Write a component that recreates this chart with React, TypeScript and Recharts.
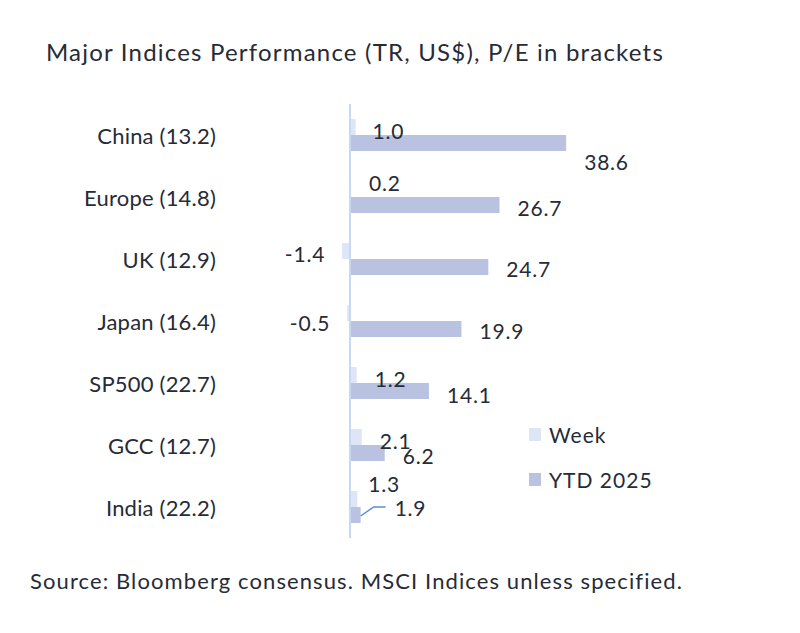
import React from "react";
import { BarChart, Bar, XAxis, YAxis, ReferenceLine, LabelList, Legend } from "recharts";

const indices = ["China (13.2)", "Europe (14.8)", "UK (12.9)", "Japan (16.4)", "SP500 (22.7)", "GCC (12.7)", "India (22.2)"];
const weekReturns = [1.0, 0.2, -1.4, -0.5, 1.2, 2.1, 1.3];
const ytdReturns = [38.6, 26.7, 24.7, 19.9, 14.1, 6.2, 1.9];

const data = indices.map((name, i) => ({ name, week: weekReturns[i], ytd: ytdReturns[i] }));

// label nudges, in px, so the labels sit where the source put them
const weekLabelDx = [17, 18, 17, 17, 18, 18, 11];
const weekLabelDy = [3, -7, 2, 9, 3, 3, -16];
const ytdLabelDx = [18, 18, 18, 18, 18, 18, 34];
const ytdLabelDy = [18, 2, 1, 1, 3, 2, -8];
const ytdLeader = [false, false, false, false, false, false, true];

const FONT = "Lato, 'Noto Sans', sans-serif";
const TEXT = "#262b36";
const WEEK_COLOR = "#dde5f7";
const YTD_COLOR = "#b9c3e1";

const makeLabel = (dxs: number[], dys: number[], leader?: boolean[]) => (props: any) => {
  const { x, y, width, height, value, index } = props;
  const neg = value < 0;
  const end = neg ? Math.min(x, x + width) : Math.max(x, x + width);
  const cy = y + height / 2;
  const tx = neg ? end - dxs[index] : end + dxs[index];
  const ty = cy + dys[index];
  return (
    <g>
      {leader && leader[index] && (
        <polyline
          points={`${end},${cy + 1} ${end + 13},${ty} ${end + 25},${ty}`}
          fill="none"
          stroke="#5b8ed6"
          strokeWidth={1.5}
        />
      )}
      <text
        x={tx}
        y={ty}
        textAnchor={neg ? "end" : "start"}
        dominantBaseline="central"
        fontSize={21}
        letterSpacing={0.8}
        fontFamily={FONT}
        fill={TEXT}
      >
        {Number(value).toFixed(1)}
      </text>
    </g>
  );
};

const CategoryTick = (props: any) => {
  const { x, y, payload } = props;
  return (
    <text
      x={x}
      y={y}
      textAnchor="end"
      dominantBaseline="central"
      fontSize={22}
      letterSpacing={0.2}
      fontFamily={FONT}
      fill={TEXT}
    >
      {payload.value}
    </text>
  );
};

const renderLegend = (props: any) => {
  const { payload } = props;
  return (
    <div style={{ fontFamily: FONT, fontSize: 21, letterSpacing: 1, color: TEXT }}>
      {payload.map((entry: any) => (
        <div key={entry.value} style={{ display: "flex", alignItems: "center", height: 45 }}>
          <span style={{ display: "inline-block", width: 12, height: 13, background: entry.color, marginRight: 8 }} />
          <span>{entry.value}</span>
        </div>
      ))}
    </div>
  );
};

export default function App() {
  return (
    <div style={{ position: "absolute", left: 0, top: 0, width: 800, height: 633, background: "#fff" }}>
      <div
        style={{
          position: "absolute",
          left: 46,
          top: 38,
          fontFamily: FONT,
          fontSize: 24,
          letterSpacing: 1.2,
          color: TEXT,
          whiteSpace: "nowrap",
          lineHeight: "28px",
        }}
      >
        Major Indices Performance (TR, US$), P/E in brackets
      </div>
      <BarChart
        width={800}
        height={633}
        data={data}
        layout="vertical"
        margin={{ top: 104, right: 226, bottom: 95, left: 18 }}
        barGap={0}
        barSize={16}
      >
        <XAxis type="number" domain={[-20, 40]} hide />
        <YAxis
          type="category"
          dataKey="name"
          width={220}
          axisLine={false}
          tickLine={false}
          tickMargin={16}
          tick={<CategoryTick />}
          interval={0}
        />
        <Legend
          layout="vertical"
          align="center"
          verticalAlign="middle"
          wrapperStyle={{ left: 529, top: 412, width: 200 }}
          content={renderLegend}
        />
        <Bar dataKey="week" name="Week" fill={WEEK_COLOR} isAnimationActive={false}>
          <LabelList dataKey="week" content={makeLabel(weekLabelDx, weekLabelDy)} />
        </Bar>
        <Bar dataKey="ytd" name="YTD 2025" fill={YTD_COLOR} isAnimationActive={false}>
          <LabelList dataKey="ytd" content={makeLabel(ytdLabelDx, ytdLabelDy, ytdLeader)} />
        </Bar>
        <ReferenceLine x={0} stroke="#c9d7f0" strokeWidth={2} />
      </BarChart>
      <div
        style={{
          position: "absolute",
          left: 30,
          top: 567,
          fontFamily: FONT,
          fontSize: 22,
          letterSpacing: 1.1,
          color: TEXT,
          whiteSpace: "nowrap",
          lineHeight: "28px",
        }}
      >
        Source: Bloomberg consensus. MSCI Indices unless specified.
      </div>
    </div>
  );
}
